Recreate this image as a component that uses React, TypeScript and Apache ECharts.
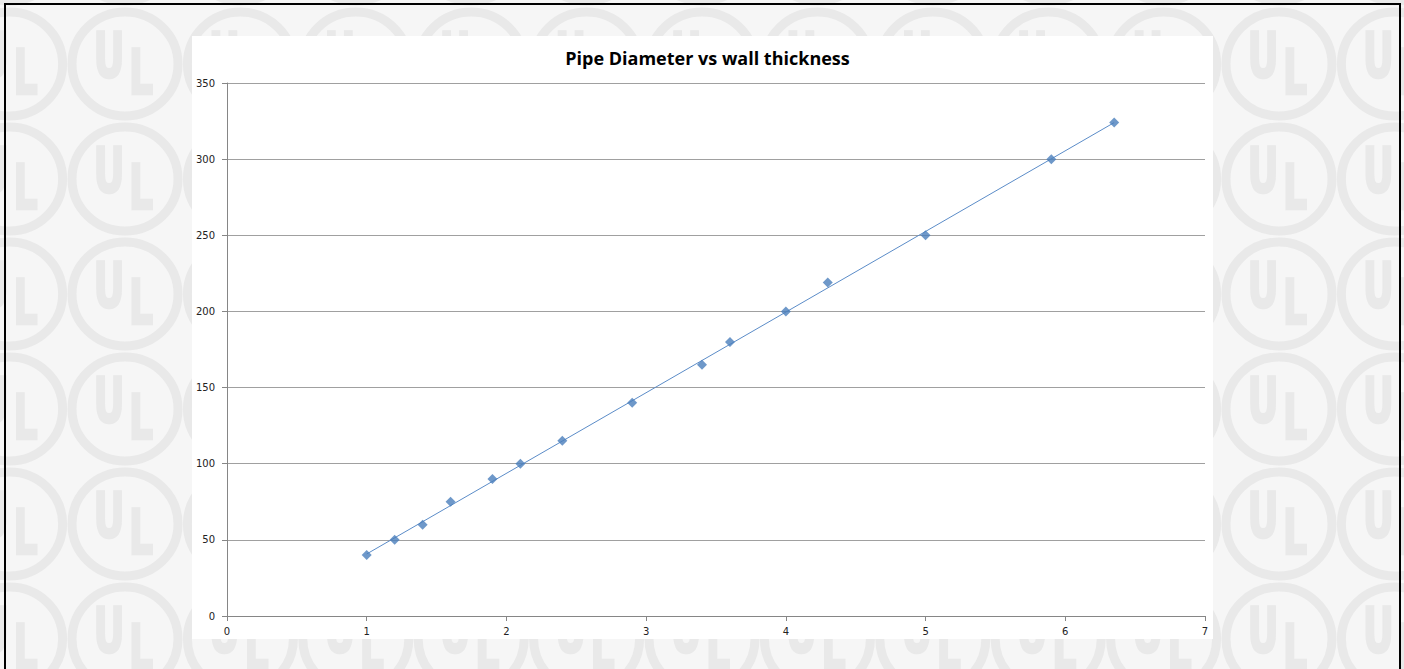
import React, { useEffect, useRef } from "react";
import * as echarts from "echarts";

const wallThickness = [1, 1.2, 1.4, 1.6, 1.9, 2.1, 2.4, 2.9, 3.4, 3.6, 4, 4.3, 5, 5.9, 6.35];
const pipeDiameter = [40, 50, 60, 75, 90, 100, 115, 140, 165, 180, 200, 219, 250, 300, 324];
const xTicks = [0, 1, 2, 3, 4, 5, 6, 7];
const yTicks = [0, 50, 100, 150, 200, 250, 300, 350];
const titleText = "Pipe Diameter vs wall thickness";
const logoLetters = ["U", "L"];

const W = 1404;
const H = 669;
const PLOT_BOX = { x: 192, y: 36, w: 1021, h: 603 };

function linearFit(xs: number[], ys: number[]) {
  const n = xs.length;
  const mx = xs.reduce((a, b) => a + b, 0) / n;
  const my = ys.reduce((a, b) => a + b, 0) / n;
  let sxy = 0;
  let sxx = 0;
  for (let i = 0; i < n; i++) {
    sxy += (xs[i] - mx) * (ys[i] - my);
    sxx += (xs[i] - mx) * (xs[i] - mx);
  }
  const slope = sxy / sxx;
  return { slope, intercept: my - slope * mx };
}

function buildWatermark() {
  const els: any[] = [];
  const bg = "#f6f6f6";
  const ring = "#e9e9e9";
  els.push({ type: "rect", z: -20, shape: { x: 0, y: 0, width: W, height: H }, style: { fill: bg }, silent: true });
  for (let j = -1; j <= 6; j++) {
    const cy = 64 + 115 * j;
    for (let k = 0; k <= 12; k++) {
      const cx = 9.6 + 115.4 * k;
      els.push({
        type: "ellipse",
        z: -19,
        silent: true,
        shape: { cx, cy, rx: 53, ry: 52 },
        style: { fill: null, stroke: ring, lineWidth: 9 },
      });
      const boxes = [
        { x0: cx - 29, y0: cy - 31, x1: cx - 3, y1: cy + 14 },
        { x0: cx + 7, y0: cy - 14, x1: cx + 25, y1: cy + 31 },
      ];
      boxes.forEach((b, li) => {
        if (b.x1 <= 0 || b.y1 <= 0 || b.x0 >= W || b.y0 >= H) return;
        els.push({
          type: "text",
          z: -18,
          silent: true,
          x: (b.x0 + b.x1) / 2,
          y: (b.y0 + b.y1) / 2,
          scaleX: 0.62,
          style: {
            text: logoLetters[li],
            fill: ring,
            stroke: ring,
            lineWidth: 2.5,
            font: "bold 62px 'DejaVu Sans', sans-serif",
            align: "center",
            verticalAlign: "middle",
          },
        });
      });
    }
  }
  els.push({ type: "rect", z: -10, silent: true, shape: { x: PLOT_BOX.x, y: PLOT_BOX.y, width: PLOT_BOX.w, height: PLOT_BOX.h }, style: { fill: "#ffffff" } });
  els.push({ type: "rect", z: -9, silent: true, shape: { x: 5, y: 4, width: 1395, height: 720 }, style: { fill: null, stroke: "#000000", lineWidth: 2 } });
  return els;
}

export default function App() {
  const ref = useRef<HTMLDivElement>(null);
  useEffect(() => {
    document.body.style.margin = "0";
    if (!ref.current) return;
    const chart = echarts.init(ref.current, null, { renderer: "svg" });
    const fit = linearFit(wallThickness, pipeDiameter);
    const xmin = Math.min(...wallThickness);
    const xmax = Math.max(...wallThickness);
    const trend = [
      [xmin, fit.intercept + fit.slope * xmin],
      [xmax, fit.intercept + fit.slope * xmax],
    ];
    const labelStyle = {
      color: "#222",
      fontFamily: "'DejaVu Sans', sans-serif",
      fontSize: 10,
    };
    chart.setOption({
      animation: false,
      backgroundColor: "transparent",
      title: {
        text: titleText,
        left: 702.5,
        top: 44,
        textAlign: "center",
        textStyle: { fontFamily: "'Open Sans', sans-serif", fontWeight: "bold", fontSize: 18, color: "#000" },
      },
      grid: { left: 227, top: 83, width: 978, height: 533, containLabel: false },
      xAxis: {
        type: "value",
        min: xTicks[0],
        max: xTicks[xTicks.length - 1],
        interval: 1,
        axisLine: { show: true, lineStyle: { color: "#868686", width: 1 } },
        axisTick: { show: true, length: 5, lineStyle: { color: "#868686" } },
        axisLabel: { ...labelStyle, margin: 10 },
        splitLine: { show: false },
      },
      yAxis: {
        type: "value",
        min: yTicks[0],
        max: yTicks[yTicks.length - 1],
        interval: 50,
        axisLine: { show: true, lineStyle: { color: "#868686", width: 1 } },
        axisTick: { show: true, length: 5, lineStyle: { color: "#868686" } },
        axisLabel: { ...labelStyle, margin: 12 },
        splitLine: { show: true, lineStyle: { color: "#a0a0a0", width: 1 } },
      },
      graphic: { elements: buildWatermark() },
      series: [
        {
          name: "Trend",
          type: "line",
          data: trend,
          symbol: "none",
          lineStyle: { color: "#5b8cc8", width: 1 },
          z: 2,
          silent: true,
        },
        {
          name: "Pipe Diameter",
          type: "scatter",
          data: wallThickness.map((x, i) => [x, pipeDiameter[i]]),
          symbol: "diamond",
          symbolSize: 10,
          itemStyle: { color: "#4a7ebb" },
          z: 3,
        },
      ],
    });
    return () => chart.dispose();
  }, []);
  return <div ref={ref} style={{ width: W, height: H }} />;
}
